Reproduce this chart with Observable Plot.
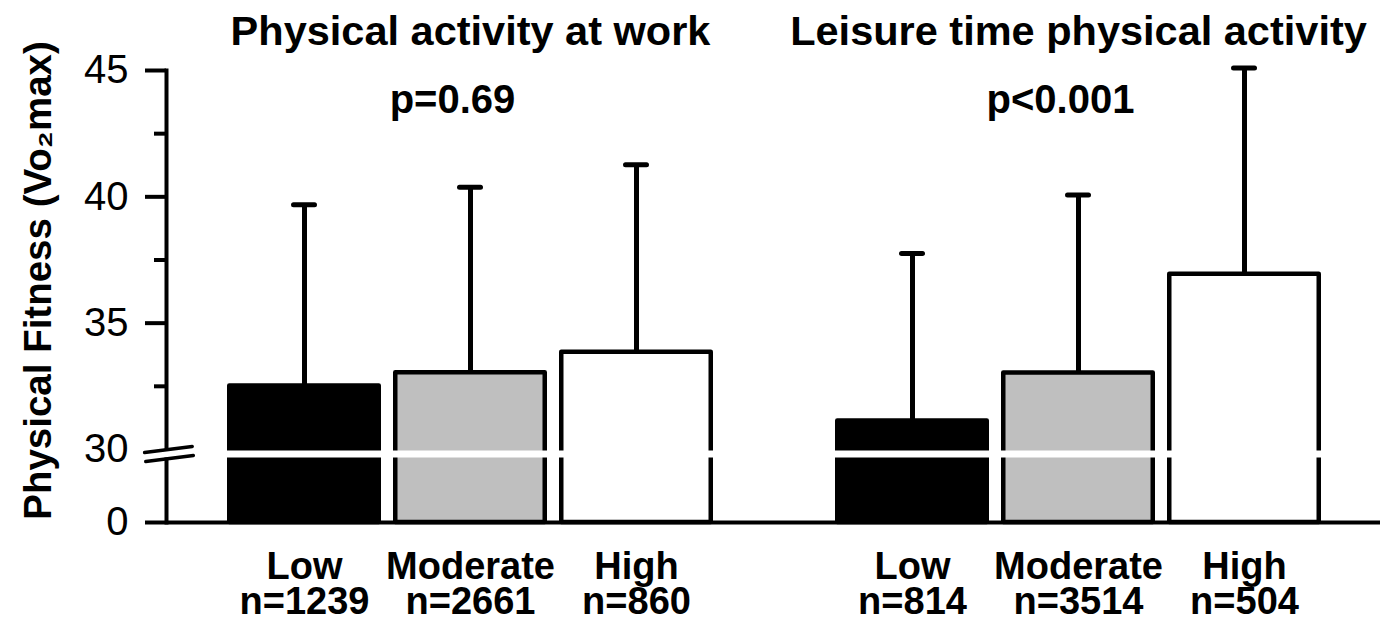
<!DOCTYPE html>
<html><head><meta charset="utf-8">
<script src="https://cdn.jsdelivr.net/npm/d3@7"></script>
<script src="https://cdn.jsdelivr.net/npm/@observablehq/plot@0.6"></script>
<style>body{margin:0;background:#fff;overflow:hidden} svg{display:block}</style>
</head><body><div id="chart"></div>
<script>
const groups = ["Physical activity at work", "Leisure time physical activity"];
const levels = ["Low", "Moderate", "High"];
const means = [[32.51, 33.04, 33.85], [31.13, 33.03, 36.94]];
const upper = [[39.69, 40.38, 41.27], [37.76, 40.07, 45.1]];
const counts = [[1239, 2661, 860], [814, 3514, 504]];
const pValues = ["p=0.69", "p<0.001"];
const fills = ["#000000", "#bfbfbf", "#ffffff"];
const yLabel = "Physical Fitness (Vo\u2082max)";
const yTickMarks = [0, 35, 40, 45];
const yTickLabels = [0, 30, 35, 40, 45];
const yMinorTicks = [32.5, 37.5, 42.5];
const yBreak = 30;
const yMax = 45;
const brokenSpan = 2.89; // visual height (in upper-axis units) given to the compressed 0–30 segment

// broken axis: 0..30 squeezed into a short segment, 30..45 shown at full scale
const brokenAxis = v => v <= yBreak ? (v / yBreak) * brokenSpan : brokenSpan + (v - yBreak);
const unbrokenAxis = u => u <= brokenSpan ? (u / brokenSpan) * yBreak : yBreak + (u - brokenSpan);

const rows = groups.flatMap((g, gi) => levels.map((l, li) => ({
  group: g, level: l, mean: means[gi][li], upper: upper[gi][li], n: counts[gi][li]
})));
const groupRows = groups.map((g, i) => ({group: g, p: pValues[i]}));
const firstGroup = [{group: groups[0], label: yLabel, y: yBreak}];

const slash = {
  draw(context, l) {
    context.moveTo(-4.5, 0); context.lineTo(-4.5, -l);
    context.moveTo(4.5, 0); context.lineTo(4.5, -l);
  }
};

const chart = Plot.plot({
  width: 1380, height: 621,
  marginLeft: 166, marginRight: -2, marginTop: 70, marginBottom: 99,
  style: {fontFamily: "'Liberation Sans', Arial, sans-serif", color: "black", background: "white"},
  fx: {domain: groups, paddingInner: 0, paddingOuter: 0, axis: null, label: null},
  x: {domain: levels, paddingInner: 0.07, paddingOuter: 0.3602, axis: null, label: null},
  y: {transform: brokenAxis, domain: [0, brokenAxis(yMax)], axis: null, label: null},
  color: {domain: levels, range: fills},
  marks: [
    Plot.frame({anchor: "left", strokeWidth: 4, facetAnchor: "left"}),
    Plot.axisY({ticks: yTickMarks.map(brokenAxis), tickSize: 21, strokeWidth: 4, text: null, label: null}),
    Plot.axisY({ticks: yMinorTicks.map(brokenAxis), tickSize: 12, strokeWidth: 4, text: null, label: null}),
    Plot.axisY({ticks: yTickLabels.map(brokenAxis), tickFormat: u => String(Math.round(unbrokenAxis(u))), tickSize: 0, tickPadding: 38, fontSize: 40, label: null}),
    Plot.ruleY([0], {strokeWidth: 4}),
    Plot.ruleX(rows, {fx: "group", x: "level", y1: "mean", y2: "upper", strokeWidth: 5}),
    Plot.tickY(rows, {fx: "group", x: "level", y: "upper", strokeWidth: 5, strokeLinecap: "round", insetLeft: 66.5, insetRight: 66.5}),
    Plot.barY(rows, {fx: "group", x: "level", y1: 0, y2: "mean", fill: "level", stroke: "black", strokeWidth: 4.5, strokeLinejoin: "round", insetLeft: 2.25, insetRight: 2.25}),
    Plot.ruleY([yBreak], {stroke: "white", strokeWidth: 7, dy: 4.5, insetLeft: -5}),
    Plot.vector(firstGroup, {fx: "group", y: "y", frameAnchor: "left", dx: 2.5, dy: 4.5, length: 48, rotate: 82.7, anchor: "middle", shape: slash, strokeWidth: 3.5}),
    Plot.text(groupRows, {fx: "group", text: "group", frameAnchor: "top", lineAnchor: "bottom", dy: -26, fontSize: 41.5, fontWeight: "bold"}),
    Plot.text(groupRows, {fx: "group", text: "p", frameAnchor: "top", lineAnchor: "bottom", dy: 42, dx: -18, fontSize: 40, fontWeight: "bold"}),
    Plot.text(rows, {fx: "group", x: "level", text: d => `${d.level}\nn=${d.n}`, frameAnchor: "bottom", lineAnchor: "top", dy: 31, lineHeight: 0.93, fontSize: 38, fontWeight: "bold"}),
    Plot.text(firstGroup, {fx: "group", text: "label", frameAnchor: "left", textAnchor: "middle", rotate: -90, lineAnchor: "top", dx: -143, dy: -16, fontSize: 38.5, fontWeight: "bold"})
  ]
});
document.getElementById("chart").append(chart);
</script>
</body></html>
